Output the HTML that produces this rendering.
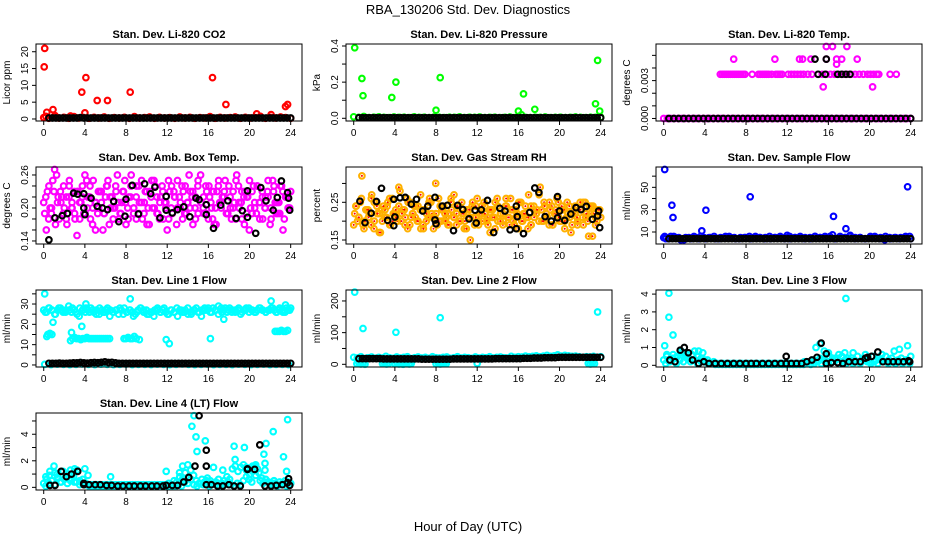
<!DOCTYPE html>
<html><head><meta charset="utf-8">
<style>
html,body{margin:0;padding:0;background:#fff;}
svg{display:block;font-family:"Liberation Sans",sans-serif;}
</style></head>
<body>
<svg id="chart" width="936" height="540" viewBox="0 0 936 540">
<text x="468" y="14" text-anchor="middle" font-size="13">RBA_130206  Std. Dev. Diagnostics</text>
<text x="468" y="531" text-anchor="middle" font-size="13">Hour of Day (UTC)</text>
</svg>
<script>
// ---------- data (hours / values) ----------
const xTicks = [0,4,8,12,16,20,24];

// Panel 1: CO2
const co2OutH = [0.1,0.05,3.7,4.1,5.2,6.2,8.4,16.4,17.7,23.5,23.7,0.3,0.9,4.0,20.7,22.1,0.2,1.1,2.6];
const co2OutV = [21,15.5,8,12.3,5.5,5.5,8,12.3,4.3,3.7,4.3,2.0,2.8,1.8,1.5,1.3,0.8,1.0,0.9];
const co2BaseV = [0.4,0.2,0.6,0.3,0.5,0.2,0.7,0.3,0.4,0.2,0.5,0.3,0.6,0.2,0.4,0.3,0.5,0.2,0.7,0.3,0.4,0.6,0.2,0.5,0.3,0.4,0.2,0.6,0.3,0.5,0.2,0.4,0.3,0.7,0.2,0.5,0.3,0.4,0.6,0.2,0.5,0.3,0.4,0.8,0.2,0.5,0.3,0.6,0.4,0.2];
const co2BlackV = [0.3,0.3,0.3,0.3,0.3,0.3,0.3,0.3,0.3,0.4,0.3,0.3,0.3,0.3,0.3,0.3,0.3,0.3,0.3,0.3,0.3,0.3,0.3,0.3,0.3,0.3,0.3,0.3,0.3,0.3,0.3,0.3,0.3,0.3,0.3,0.3,0.3,0.3,0.3,0.3,0.3,0.3,0.3,0.3,0.3,0.3,0.3,0.3,0.3,0.3,0.3,0.3,0.3,0.3,0.3,0.3,0.3,0.3,0.3,0.3,0.3,0.3,0.3,0.3,0.3,0.3,0.3,0.3,0.3,0.3];

// Panel 2: Pressure
const prOutH = [0.1,0.8,0.9,3.7,4.1,8.4,8.0,16.0,16.5,17.6,23.5,23.7,23.9,16.3];
const prOutV = [0.39,0.22,0.125,0.115,0.2,0.225,0.045,0.04,0.135,0.05,0.08,0.32,0.04,0.02];
const prBaseV = [0.008,0.005,0.01,0.004,0.006,0.008,0.005,0.004,0.007,0.005,0.006,0.004,0.008,0.005,0.006,0.004,0.007,0.005,0.004,0.006,0.005,0.008,0.004,0.006,0.005,0.007,0.004,0.005,0.006,0.004,0.005,0.007,0.004,0.006,0.005,0.004,0.006,0.005,0.007,0.004,0.005,0.006,0.004,0.005,0.007,0.005,0.004,0.006,0.005,0.006];
const prBlackV = [0.003,0.003,0.003,0.003,0.003,0.003,0.003,0.003,0.003,0.003,0.003,0.003,0.003,0.003,0.003,0.003,0.003,0.003,0.003,0.003,0.003,0.003,0.003,0.003,0.003,0.003,0.003,0.003,0.003,0.003,0.003,0.003,0.003,0.003,0.003,0.003,0.003,0.003,0.003,0.003,0.003,0.003,0.003,0.003,0.003,0.003,0.003,0.003,0.003,0.003,0.003,0.003,0.003,0.003,0.003,0.003,0.003,0.003,0.003,0.003,0.003,0.003,0.003,0.003,0.003,0.003,0.003,0.003,0.003,0.003];

// Panel 3: Li-820 Temp
const tmpMidH = [5.5,5.7,5.9,6.1,6.3,6.5,6.7,6.9,7.1,7.3,7.5,7.7,7.9,8.6,9.2,9.4,9.6,9.8,10.0,10.2,10.5,10.9,11.1,11.3,11.5,12.1,12.4,12.7,13.0,13.3,13.6,14.0,14.4,15.0,15.4,15.8,16.2,16.6,17.0,17.4,17.8,18.2,18.6,19.0,19.4,19.8,20.1,20.4,20.7,20.9,22.0,22.6];
const tmpMidV = [0.0035,0.0035,0.0035,0.0035,0.0035,0.0035,0.0035,0.0035,0.0035,0.0035,0.0035,0.0035,0.0035,0.0035,0.0035,0.0035,0.0035,0.0035,0.0035,0.0035,0.0035,0.0035,0.0035,0.0035,0.0035,0.0035,0.0035,0.0035,0.0035,0.0035,0.0035,0.0035,0.0035,0.0035,0.0035,0.0035,0.0035,0.0035,0.0035,0.0035,0.0035,0.0035,0.0035,0.0035,0.0035,0.0035,0.0035,0.0035,0.0035,0.0035,0.0035,0.0035];
const tmpHiH = [6.8,10.8,13.2,13.5,14.3,15.8,16.8,17.3,18.8,15.8,16.4,17.8,16.8,15.5,20.3];
const tmpHiV = [0.0047,0.0047,0.0047,0.0047,0.0047,0.0047,0.0047,0.0047,0.0047,0.0057,0.0057,0.0057,0.0043,0.0025,0.0025];
const tmpBlackH = [15.0,15.7,16.9,17.3,17.7,18.1,14.7,15.8];
const tmpBlackV = [0.0035,0.0035,0.0035,0.0035,0.0035,0.0035,0.0047,0.0047];
const tmpZeroV = [0,0,0,0,0,0,0,0,0,0,0,0,0,0,0,0,0,0,0,0,0,0,0,0,0,0,0,0,0,0,0,0,0,0,0,0,0,0,0,0,0,0,0,0,0,0,0,0,0,0,0,0,0,0,0,0,0,0,0,0,0,0,0,0,0,0,0,0,0,0];
const tmpBlackZeroV = [0,0,0,0,0,0,0,0,0,0,0,0,0,0,0,0,0,0,0,0,0,0,0,0,0,0,0,0,0,0,0,0,0,0,0,0,0,0,0,0,0,0,0,0,0,0,0,0,0,0];

// Panel 4: Amb box temp
const ambA = [.21,.16,.24,.19,.23,.26,.18,.22,.20,.17,.25,.21,.19,.23,.18,.22,.26,.20,.24,.17,.21,.19,.23,.16,.22,.25,.20,.18,.24,.21,.19,.23,.17,.22,.26,.20,.18,.24,.21,.19,.23,.17,.25,.20,.22,.18,.24,.21,.16,.23,.19,.22,.25,.20,.18,.24,.21,.23,.17,.22,.19,.26,.20,.24,.18,.21,.23,.17,.25,.20,.22,.19,.24,.18,.21,.26,.20,.23,.17,.22,.25,.19,.21,.24,.18,.22,.20,.23,.17,.25,.21,.19,.24,.16,.22,.20,.23];
const ambB = [.19,.23,.20,.25,.17,.22,.21,.24,.18,.22,.20,.23,.15,.21,.24,.19,.22,.18,.25,.21,.20,.23,.19,.24,.17,.22,.20,.26,.19,.23,.21,.18,.24,.20,.22,.19,.25,.21,.17,.23,.20,.24,.19,.22,.18,.21,.25,.20,.23,.17,.22,.24,.19,.21,.20,.23,.18,.25,.21,.22,.19,.24,.20,.17,.23,.21,.22,.25,.19,.20,.23,.18,.24,.21,.22,.19,.16,.23,.20,.24,.21,.18,.22,.25,.20,.23,.19,.21,.24,.18,.22,.20];
const ambC = [.22,.18,.20,.27,.21,.23,.19,.22,.24,.20,.18,.23,.21,.19,.25,.22,.20,.16,.23,.21,.19,.24,.22,.20,.23,.18,.21,.25,.20,.22,.19,.24,.21,.18,.23,.20,.22,.25,.19,.21,.23,.20,.18,.24,.22,.20,.21,.23,.19,.26,.22,.20,.24,.21,.19,.23,.22,.18,.20,.24,.21,.23,.19,.22,.20,.25,.21,.18,.23,.22,.20,.24,.19,.21,.23,.20,.22,.18,.24,.21,.19,.23,.22,.20];
const ambBlackH = [0.5,1.1,1.8,2.3,2.9,3.3,3.9,3.9,4.0,4.6,5.2,5.7,6.2,6.8,7.3,7.9,8.0,8.6,9.2,9.8,10.4,10.8,11.3,11.9,11.9,12.5,13.0,13.6,14.2,14.8,15.1,15.8,15.8,16.5,17.2,17.9,18.7,19.3,19.8,19.8,20.6,21.1,21.6,22.3,22.7,23.1,23.7,23.8,23.9];
const ambBlackV = [.142,.182,.186,.190,.227,.225,.226,.200,.188,.218,.203,.200,.197,.212,.175,.185,.216,.241,.189,.244,.226,.238,.182,.221,.196,.191,.197,.202,.184,.218,.215,.206,.188,.163,.205,.213,.181,.195,.231,.183,.154,.237,.213,.196,.219,.249,.228,.218,.196];

// Panel 5: Gas stream RH
const rhA = [.19,.24,.21,.26,.18,.23,.22,.27,.20,.25,.17,.23,.21,.24,.19,.26,.22,.20,.28,.23,.21,.18,.25,.22,.24,.20,.27,.19,.23,.21,.25,.18,.22,.26,.20,.24,.21,.19,.23,.27,.22,.20,.25,.18,.23,.21,.24,.19,.26,.22,.20,.24,.21,.17,.23,.25,.20,.22,.19,.24,.21,.26,.20,.23,.18,.25,.22,.21,.27,.19,.24,.22,.20,.23,.25,.21,.19,.24,.22,.26,.20,.23,.18,.25,.21,.22,.24,.19,.23,.21,.25,.20,.22,.24,.19,.23,.21];
const rhB = [.22,.20,.25,.19,.23,.21,.26,.18,.24,.22,.20,.23,.25,.19,.22,.21,.24,.20,.23,.26,.19,.22,.21,.24,.18,.23,.20,.25,.22,.21,.19,.24,.23,.20,.22,.26,.21,.19,.24,.22,.20,.23,.15,.21,.24,.19,.22,.25,.20,.23,.21,.18,.24,.22,.20,.26,.21,.23,.19,.22,.25,.20,.24,.21,.19,.23,.22,.27,.20,.24,.21,.23,.19,.22,.25,.20,.23,.21,.24,.19,.22,.20,.23,.25,.21,.16,.24,.22,.20,.23];
const rhC = [.24,.21,.32,.20,.23,.19,.25,.22,.17,.24,.21,.26,.20,.23,.29,.22,.19,.25,.21,.24,.20,.23,.18,.22,.26,.21,.30,.20,.23,.22,.19,.25,.21,.24,.20,.22,.18,.23,.25,.21,.20,.24,.22,.19,.23,.21,.26,.20,.22,.24,.19,.23,.21,.25,.20,.22,.18,.24,.21,.23,.29,.20,.22,.25,.19,.23,.21,.24,.20,.22,.17,.23,.21,.25,.19,.22,.24,.16,.21,.23];
const rhBlackH = [0.6,1.1,1.7,2.2,2.7,3.3,3.9,3.9,4.0,4.5,5.0,5.6,6.1,6.7,7.2,7.9,7.9,8.0,8.6,9.1,9.7,10.1,10.6,11.2,11.8,11.9,12.4,13.0,13.6,14.2,14.7,15.2,15.8,15.8,15.9,16.5,17.1,17.6,18.0,18.6,19.2,19.8,19.8,20.0,20.5,21.1,21.6,22.1,22.6,23.2,23.7,23.8,23.9];
const rhBlackV = [.253,.196,.221,.252,.287,.202,.258,.188,.211,.262,.263,.245,.258,.227,.240,.263,.203,.193,.240,.242,.175,.242,.231,.206,.229,.195,.230,.255,.170,.234,.227,.177,.240,.180,.212,.167,.223,.288,.276,.212,.200,.265,.209,.227,.202,.219,.236,.231,.239,.205,.214,.227,.183];

// Panel 6: Sample flow
const sfOutH = [0.1,0.8,0.9,3.7,4.1,8.4,16.5,17.7,23.7,0.1,12.0,16.4];
const sfOutV = [66,34,23,11,29.5,41.5,24,13,50.5,6,7,7.5];
const sfBaseA = [5,4,6,5,3,5,6,4,5,5,6,4,5,6,5,4,5,6,5,5,4,6,5,5,4,6,5,5,4,5,6,5,6,5,4,6,5,7,5,5,4,6,5,5,6,4,5,5,6,4];
const sfBaseB = [4,6,5,3,5,4,5,6,4,5,4,5,6,5,4,5,5,4,6,5,5,4,5,6,5,4,5,6,5,4,6,5,5,6,4,5,5,6,4,5,4,5,6,4,3,5,5,4,5,6];
const sfBlackV = [4,4,4,4,4,4,4,4,4,4,4,4,4,4,4,4,4,4,4,4,4,4,4,4,4,4,4,4,4,4,4,4,4,4,4,4,4,4,4,4,4,4,4,4,4,4,4,4,4,4,4,4,4,4,4,4,4,4,4,4,4,4,4,4,4,4,4,4,4,4];

// Panel 7: Line 1 flow
const l1OutH = [0.1,8.4,4.1,0.9,3.7,11.9,12.2,16.2,17.5,22.1,23.5,0.3,0.6,2.6,2.7];
const l1OutV = [35,32.5,30,21,19,12.5,10.5,13,22.5,31.5,29.5,14,15.5,12,16];
const l1BandA = [27,26,28,27,25,27,28,26,27,29,26,27,25,28,27,26,27,28,26,27,25,27,26,28,27,26,27,25,27,28,26,27,26,25,27,28,26,27,25,26,27,28,26,27,26,25,27,26,28,27,26,27,25,26,27,28,26,27,28,27,26,28,27,29,28,27,26,28,27,26,27,25,27,28,26,27,26,27,28,27,26,27,28,27,26,28,27,26,27,28];
const l1BandB = [26,28,27,25,28,27,26,27,28,26,24,27,28,26,27,25,28,26,27,24,26,27,28,25,26,27,24,26,28,27,25,26,24,27,26,28,25,27,26,24,27,26,28,25,27,26,24,27,28,26,27,25,26,28,27,26,27,28,26,27,28,27,26,28,27,26,27,28,26,27,26,28,27];
const l1MidH = [2.8,3.0,3.2,3.4,3.6,3.8,4.0,4.2,4.4,4.6,4.8,5.0,5.2,5.4,5.6,5.8,6.0,6.2,6.4,7.8,8.0,8.2,8.4,8.6,8.8,9.0,9.3,22.5,22.7,22.9,23.1,23.3,23.5,23.7,0.4,0.6,0.8];
const l1MidV = [13,13.5,13,13,12.5,13,13,13.5,13,13,13,13,13,13,13,13,13,13,13,13,13,13.5,13,13,14,13,12.5,16.5,16.5,16.5,17,16.5,16.5,17,15,15.5,15];
const l1LowV = [0.3,0.2,0.4,0.3,0.2,0.3,0.5,0.3,0.2,0.4,0.3,0.2,0.3,0.4,0.2,0.3,0.3,0.2,0.4,0.3,0.2,0.3,0.5,0.3,0.2,0.3,0.4,0.2,0.3,0.3,0.2,0.4,0.3,0.2,0.3,0.4,0.2,0.3,0.3,0.2];
const l1BlackV = [0.8,0.8,0.8,0.9,0.8,0.8,0.9,1.0,1.0,1.2,1.0,0.9,1.1,1.2,1.1,1.3,1.5,1.2,1.3,1.0,0.8,0.8,0.8,0.8,0.8,0.8,0.8,0.8,0.8,0.8,0.8,0.8,0.8,0.8,0.8,0.8,0.8,0.8,0.8,0.8,0.8,0.8,0.8,0.8,0.8,0.8,0.8,0.8,0.8,0.8,0.8,0.8,0.8,0.8,0.8,0.8,0.8,0.8,0.8,0.8,0.8,0.8,0.8,0.8,0.8,0.8,0.8,0.8,0.8,0.8];

// Panel 8: Line 2 flow
const l2OutH = [0.1,0.9,4.1,8.4,23.7,12.0];
const l2OutV = [228,113,101,147,165,3];
const l2BandV = [22,20,24,18,21,23,19,22,20,25,21,19,23,20,22,24,18,21,23,20,22,19,24,21,20,22,23,19,21,24,20,22,21,19,23,20,22,21,24,20,22,23,21,20,25,22,24,23,26,24,25,27,24,26,28,25,27,30,26,28,27,25,26,24,22,24,23,25,22,24];
const l2ZeroH = [0.3,0.5,0.7,0.9,1.1,2.8,3.0,3.2,3.4,4.0,4.2,4.4,4.6,4.8,5.0,5.2,5.4,5.6,8.0,8.2,8.4,8.6,8.8,9.0,22.8,23.0,23.2,23.4];
const l2ZeroV = [2,5,1,3,0,2,4,1,3,2,5,1,3,0,2,4,1,3,2,5,1,3,4,2,3,1,4,2];
const l2BlackV = [18,18,18,18,18,18,18,17,17,17,17,17,17,17,17,17,17,17,16,16,16,16,16,16,16,16,16,17,17,17,17,17,17,17,17,17,17,17,17,18,18,18,18,18,18,18,18,19,19,19,20,20,20,21,21,21,21,22,22,22,22,22,22,22,22,22,22,22,22,22];

// Panel 9: Line 3 flow
const l3OutH = [0.5,0.5,0.9,0.1,17.7,23.7,0.3,1.3,1.7,2.3,3.0,3.4,3.8,14.8,15.2,15.6,16.0,16.8,18.4,19.6,21.2,22.4,22.9,17.6];
const l3OutV = [4.05,2.7,1.7,1.1,3.75,1.1,0.6,0.5,0.8,0.6,0.8,0.8,0.7,1.0,1.2,0.8,0.7,0.4,0.7,0.6,0.6,0.8,0.9,0.7];
const l3LowA = [0.3,0.5,0.2,0.6,0.4,0.3,0.7,0.5,0.4,0.6,0.3,0.5,0.4,0.2,0.3,0.1,0.2,0.1,0.1,0.1,0.1,0.1,0.1,0.1,0.1,0.1,0.1,0.1,0.1,0.1,0.1,0.1,0.1,0.1,0.1,0.1,0.1,0.1,0.1,0.1,0.1,0.1,0.1,0.1,0.1,0.2,0.1,0.2,0.3,0.2,0.4,0.3,0.2,0.5,0.4,0.3,0.6,0.5,0.3,0.4,0.2,0.3,0.5,0.2,0.4,0.3,0.2,0.5,0.3,0.4,0.2,0.5,0.3,0.4,0.2,0.3,0.4,0.2,0.3,0.5];
const l3LowB = [0.1,0.2,0.4,0.1,0.3,0.2,0.4,0.2,0.3,0.1,0.2,0.3,0.1,0.1,0.05,0.05,0.05,0.05,0.05,0.05,0.05,0.05,0.05,0.05,0.05,0.05,0.05,0.05,0.05,0.05,0.05,0.05,0.05,0.05,0.05,0.05,0.05,0.05,0.05,0.05,0.1,0.05,0.1,0.2,0.1,0.3,0.1,0.2,0.4,0.1,0.2,0.1,0.3,0.1,0.2,0.1,0.3,0.2,0.1,0.2,0.1,0.3,0.2,0.1,0.2,0.1,0.2,0.1,0.3,0.1];
const l3BlackH = [0.6,1.1,1.6,2.0,2.4,2.8,3.4,3.9,4.4,5.0,5.6,6.2,6.8,7.4,8.0,8.5,9.0,9.6,10.2,10.8,11.4,11.9,11.9,12.4,12.9,13.4,13.9,14.4,14.9,15.3,15.8,15.8,16.3,16.9,17.4,18.0,18.6,19.1,19.6,19.8,20.2,20.8,21.3,21.8,22.3,22.8,23.3,23.8,23.9];
const l3BlackV = [0.3,0.2,0.85,1.0,0.7,0.3,0.1,0.2,0.1,0.1,0.1,0.1,0.1,0.1,0.1,0.1,0.1,0.1,0.1,0.1,0.1,0.1,0.5,0.1,0.1,0.1,0.2,0.3,0.45,1.25,0.65,0.1,0.15,0.15,0.1,0.2,0.2,0.2,0.4,0.45,0.5,0.75,0.2,0.2,0.2,0.2,0.2,0.25,0.2];

// Panel 10: Line 4 (LT) flow
const l4OutH = [14.6,14.4,14.8,14.9,15.7,16.5,18.5,18.6,19.5,20.3,21.4,21.6,22.3,23.3,23.6,23.7,0.2,0.6,1.0,1.3,2.6,3.0,4.0,4.3,6.5,11.9,13.2,13.5,14.0,20.6,21.5,17.4,19.7];
const l4OutV = [5.4,4.6,3.8,2.7,3.5,1.5,3.1,2.1,3.0,1.6,2.5,3.3,4.2,2.3,1.2,5.1,0.8,1.2,1.6,1.0,1.3,1.4,1.4,0.9,0.8,1.2,1.1,1.6,1.7,1.7,1.8,1.3,1.5];
const l4LowA = [0.3,0.6,0.9,0.5,1.1,0.8,0.4,1.2,0.9,1.0,0.7,0.4,1.3,0.5,0.3,0.2,0.2,0.2,0.2,0.2,0.2,0.2,0.2,0.2,0.2,0.2,0.2,0.2,0.2,0.2,0.2,0.2,0.2,0.2,0.2,0.2,0.2,0.2,0.2,0.2,0.2,0.2,0.2,0.2,0.2,0.3,0.2,0.5,0.4,0.8,0.6,1.1,0.7,1.3,0.9,0.5,0.3,0.6,0.4,0.7,0.5,0.3,0.4,0.6,0.3,0.5,0.8,0.6,1.4,1.6,1.2,1.5,1.7,1.3,0.6,0.4,1.6,1.4,0.5,0.3,0.6,0.4,0.3,0.5,0.2,0.4,0.3,0.5,0.4,0.3];
const l4LowB = [0.1,0.3,0.5,0.2,0.7,0.4,0.6,0.3,0.5,0.8,0.4,0.2,0.6,0.3,0.1,0.1,0.1,0.1,0.1,0.1,0.1,0.1,0.1,0.1,0.1,0.1,0.1,0.1,0.1,0.1,0.1,0.1,0.1,0.1,0.1,0.1,0.1,0.1,0.1,0.1,0.1,0.1,0.1,0.2,0.1,0.4,0.3,0.6,0.2,0.1,0.3,0.2,0.5,0.1,0.3,0.2,0.1,0.3,0.2,0.4,0.2,0.1,0.3,0.2,0.5,0.8,1.0,1.2,0.9,1.1,0.7,1.3,0.4,0.2,0.3,0.1,0.2,0.3,0.1,0.2];
const l4BlackH = [0.6,1.1,1.7,2.2,2.7,3.3,3.9,3.9,4.4,5.0,5.5,6.1,6.6,7.2,7.7,8.3,8.8,9.4,9.9,10.5,11.0,11.6,11.9,12.5,13.0,13.6,14.1,14.7,15.1,15.8,15.8,15.8,16.3,16.9,17.4,18.0,18.5,19.1,19.8,19.8,20.5,21.0,21.5,22.1,22.6,23.2,23.7,23.8,23.9];
const l4BlackV = [0.15,0.15,1.2,0.8,1.0,1.2,0.3,0.2,0.2,0.2,0.2,0.15,0.15,0.1,0.1,0.1,0.1,0.1,0.1,0.1,0.1,0.1,0.15,0.15,0.15,0.4,0.75,1.6,5.4,2.8,1.6,0.2,0.2,0.1,0.1,0.2,0.1,0.1,1.4,1.35,1.35,3.2,0.1,0.1,0.15,0.2,0.35,0.65,0.15];

// ---------- drawing ----------
var NS = 'http://www.w3.org/2000/svg';
var svgRoot = document.getElementById('chart');
var colLeft = [36,346,656], rowTop = [44,167,290,413], PW = 266, PH = 77;
var xLo = -0.75, xHi = 25.1;

function mk(tag, attrs, parent){
  var e = document.createElementNS(NS, tag);
  for (var k in attrs) e.setAttribute(k, attrs[k]);
  (parent||svgRoot).appendChild(e);
  return e;
}
function gridHours(n, start, end){ var a=[]; for(var i=0;i<n;i++) a.push(start + (end-start)*i/Math.max(1,n-1)); return a; }

function panel(name, col, row, title, ylab, yLo, yHi, yTicks, yLabels, series){
  var L = colLeft[col], T = rowTop[row];
  var g = mk('g', {});
  
  
  var xs = function(h){ return L + (h - xLo) / (xHi - xLo) * PW; };
  var ys = function(v){ return T + PH - (v - yLo) / (yHi - yLo) * PH; };
  var t = mk('text', {x: L + PW/2, y: T - 6, 'text-anchor':'middle', 'font-size':'11', 'font-weight':'bold'}, g);
  t.textContent = title;
  
  
  var marks = mk('g', {'fill':'none', 'stroke-width':'2.1'}, g);
  
  
  for (var si=0; si<series.length; si++){
    var s = series[si];
    var hs = s.h || gridHours(s.v.length, s.start, s.end);
    for (var i=0;i<s.v.length;i++){
      if (s.v[i] === null || s.v[i] === undefined) continue;
      var cx = xs(hs[i]).toFixed(1), cy = ys(s.v[i]).toFixed(1);
      var c = mk('circle', {cx: cx, cy: cy, r: '2.8', stroke: s.c}, marks);
      
      
      if (s.dot) mk('circle', {cx: cx, cy: cy, r: '1', fill: s.dot, stroke: 'none'}, marks);
    }
  }
  var b = mk('rect', {x:L, y:T, width:PW, height:PH, fill:'none', stroke:'#000', 'stroke-width':'1'}, g);
  
  
  var xa = mk('g', {}, g);
  
  
  mk('line', {x1: xs(xTicks[0]), x2: xs(xTicks[xTicks.length-1]), y1: T+PH, y2: T+PH, stroke:'#000'}, xa);
  xTicks.forEach(function(v){
    mk('line', {x1: xs(v), x2: xs(v), y1: T+PH, y2: T+PH+4, stroke:'#000'}, xa);
    var tl = mk('text', {x: xs(v), y: T+PH+15, 'text-anchor':'middle', 'font-size':'10'}, xa);
    tl.textContent = v;
  });
  var ya = mk('g', {}, g);
  
  
  yTicks.forEach(function(v,i){
    mk('line', {x1: L-4, x2: L, y1: ys(v), y2: ys(v), stroke:'#000'}, ya);
    if (yLabels[i] !== '') {
      var tl = mk('text', {x: L-8, y: ys(v), 'text-anchor':'middle', 'font-size':'10', transform:'rotate(-90 ' + (L-8) + ' ' + ys(v) + ')'}, ya);
      tl.textContent = yLabels[i];
    }
  });
  var yl = mk('text', {x: L-26, y: T+PH/2, 'text-anchor':'middle', 'font-size':'10', transform:'rotate(-90 ' + (L-26) + ' ' + (T+PH/2) + ')'}, g);
  yl.textContent = ylab;
  
  
}

var RED='#ff0000', GRN='#00ff00', MAG='#ff00ff', BLU='#0000ff', CYN='#00ffff', BLK='#000000', ORG='#ffb000';

function safe(f){ try { f(); } catch(e) {} }

safe(function(){ panel('co2', 0, 0, 'Stan. Dev. Li-820 CO2', 'Licor ppm', -0.6, 22.3, [0,5,10,15,20], ['0','5','10','15','20'], [
  {c:RED, v:co2BaseV, start:0, end:24}, {c:RED, h:co2OutH, v:co2OutV},
  {c:BLK, v:co2BlackV, start:0.5, end:24}]); });
safe(function(){ panel('pressure', 1, 0, 'Stan. Dev. Li-820 Pressure', 'kPa', -0.015, 0.411, [0,0.1,0.2,0.3,0.4], ['0.0','','0.2','','0.4'], [
  {c:GRN, v:prBaseV, start:0, end:24}, {c:GRN, h:prOutH, v:prOutV},
  {c:BLK, v:prBlackV, start:0.5, end:24}]); });
safe(function(){ panel('li820-temp', 2, 0, 'Stan. Dev. Li-820 Temp.', 'degrees C', -0.0002, 0.0059, [0,0.001,0.002,0.003,0.004,0.005], ['0.000','','','0.003','',''], [
  {c:MAG, v:tmpZeroV, start:0, end:24}, {c:MAG, h:tmpMidH, v:tmpMidV}, {c:MAG, h:tmpHiH, v:tmpHiV},
  {c:BLK, v:tmpBlackZeroV, start:0.5, end:24}, {c:BLK, h:tmpBlackH, v:tmpBlackV}]); });
safe(function(){ panel('amb-box-temp', 0, 1, 'Stan. Dev. Amb. Box Temp.', 'degrees C', 0.1345, 0.2745, [0.14,0.16,0.18,0.20,0.22,0.24,0.26], ['0.14','','','0.20','','','0.26'], [
  {c:MAG, v:ambA, start:0, end:24}, {c:MAG, v:ambB, start:0.1, end:23.9}, {c:MAG, v:ambC, start:0.2, end:23.8},
  {c:BLK, h:ambBlackH, v:ambBlackV}]); });
safe(function(){ panel('gas-rh', 1, 1, 'Stan. Dev. Gas Stream RH', 'percent', 0.1394, 0.3436, [0.15,0.20,0.25,0.30], ['0.15','','0.25',''], [
  {c:ORG, dot:RED, v:rhA, start:0, end:24}, {c:ORG, dot:RED, v:rhB, start:0.1, end:23.9}, {c:ORG, dot:RED, v:rhC, start:0.2, end:23.8},
  {c:BLK, h:rhBlackH, v:rhBlackV}]); });
safe(function(){ panel('sample-flow', 2, 1, 'Stan. Dev. Sample Flow', 'ml/min', -0.74, 68.2, [10,20,30,40,50,60], ['10','','30','','50',''], [
  {c:BLU, v:sfBaseA, start:0, end:24}, {c:BLU, v:sfBaseB, start:0.2, end:23.9}, {c:BLU, h:sfOutH, v:sfOutV},
  {c:BLK, v:sfBlackV, start:0.5, end:24}]); });
safe(function(){ panel('line1-flow', 0, 2, 'Stan. Dev. Line 1 Flow', 'ml/min', -1, 36.9, [0,5,10,15,20,25,30,35], ['0','','10','','20','','30',''], [
  {c:CYN, v:l1BandA, start:0, end:24}, {c:CYN, v:l1BandB, start:0.15, end:23.9}, {c:CYN, h:l1MidH, v:l1MidV},
  {c:CYN, v:l1LowV, start:0.1, end:23.8}, {c:CYN, h:l1OutH, v:l1OutV},
  {c:BLK, v:l1BlackV, start:0.5, end:24}]); });
safe(function(){ panel('line2-flow', 1, 2, 'Stan. Dev. Line 2 Flow', 'ml/min', -8.5, 234.6, [0,50,100,150,200], ['0','','100','','200'], [
  {c:CYN, v:l2BandV, start:0, end:24}, {c:CYN, h:l2ZeroH, v:l2ZeroV}, {c:CYN, h:l2OutH, v:l2OutV},
  {c:BLK, v:l2BlackV, start:0.5, end:24}]); });
safe(function(){ panel('line3-flow', 2, 2, 'Stan. Dev. Line 3 Flow', 'ml/min', -0.095, 4.23, [0,1,2,3,4], ['0','1','2','3','4'], [
  {c:CYN, v:l3LowA, start:0, end:24}, {c:CYN, v:l3LowB, start:0.2, end:23.9}, {c:CYN, h:l3OutH, v:l3OutV},
  {c:BLK, h:l3BlackH, v:l3BlackV}]); });
safe(function(){ panel('line4-flow', 0, 3, 'Stan. Dev. Line 4 (LT) Flow', 'ml/min', -0.2, 5.6, [0,1,2,3,4,5], ['0','','2','','4',''], [
  {c:CYN, v:l4LowA, start:0, end:24}, {c:CYN, v:l4LowB, start:0.2, end:23.9}, {c:CYN, h:l4OutH, v:l4OutV},
  {c:BLK, h:l4BlackH, v:l4BlackV}]); });
</script>
</body></html>
